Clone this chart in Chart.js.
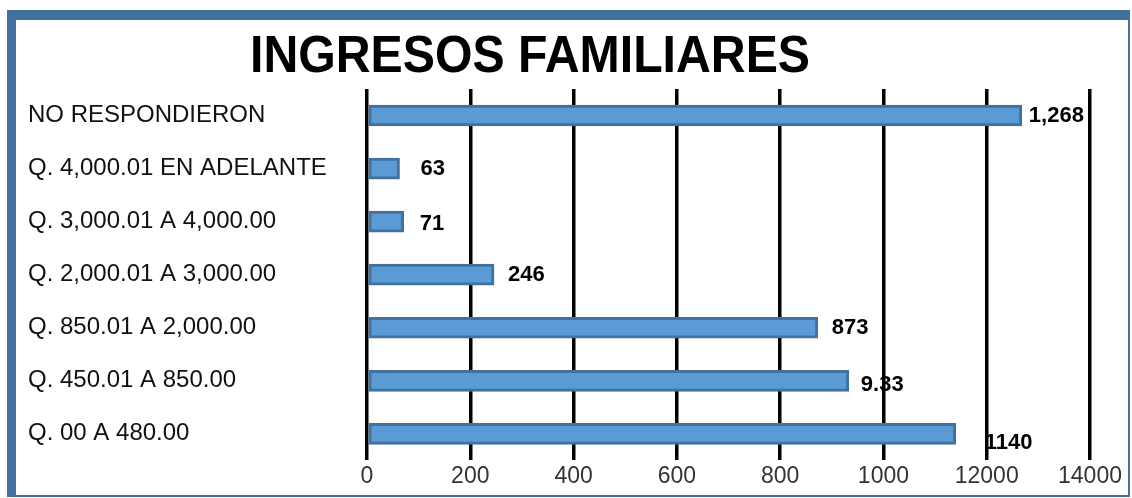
<!DOCTYPE html>
<html>
<head>
<meta charset="utf-8">
<title>Ingresos familiares</title>
<script src="https://cdn.jsdelivr.net/npm/chart.js@4.4.1/dist/chart.umd.min.js"></script>
<style>
  html, body { margin: 0; padding: 0; background: #fff; }
  #wrap { position: relative; width: 1132px; height: 498px; overflow: hidden; }
  #frame {
    position: absolute; left: 7px; top: 10px;
    width: 1112px; height: 475px;
    border-style: solid; border-color: #41719c;
    border-width: 10px 2px 2px 9px;
  }
  #chart { position: absolute; left: 0; top: 0; }
</style>
</head>
<body>
<div id="wrap">
  <div id="frame"></div>
  <canvas id="chart" width="1132" height="498"></canvas>
</div>
<script>
// ============================================================
// DATOS
// ============================================================
const categories = [
    'NO RESPONDIERON',
    'Q. 4,000.01 EN ADELANTE',
    'Q. 3,000.01 A 4,000.00',
    'Q. 2,000.01 A 3,000.00',
    'Q. 850.01 A 2,000.00',
    'Q. 450.01 A 850.00',
    'Q. 00 A 480.00'
];
const familias = [1268, 63, 71, 246, 873, 933, 1140];
// etiquetas tal como aparecen en la imagen
const valueLabels = ['1,268', '63', '71', '246', '873', '9.33', '1140'];
const xTickLabels = ['0', '200', '400', '600', '800', '1000', '12000', '14000'];

const FONT = '"Liberation Sans", Arial, Helvetica, sans-serif';

// pequeño desplazamiento de cada etiqueta respecto al final de la barra
const labelNudge = [[7, 0], [21, 0], [16, 2], [14, 0], [14, 0], [12, 4], [29, 9]];

const valueLabelPlugin = {
    id: 'valueLabels',
    afterDatasetsDraw(chart) {
        const ctx = chart.ctx;
        const meta = chart.getDatasetMeta(0);
        ctx.save();
        ctx.font = 'bold 22px ' + FONT;
        ctx.fillStyle = '#000';
        ctx.textAlign = 'left';
        ctx.textBaseline = 'middle';
        meta.data.forEach((bar, i) => {
            const [dx, dy] = labelNudge[i];
            ctx.fillText(valueLabels[i], bar.x + dx, bar.y + dy);
        });
        ctx.restore();
    }
};

// titulo dibujado a mano para poder centrarlo donde está en el original
const titlePlugin = {
    id: 'bigTitle',
    afterDraw(chart) {
        const ctx = chart.ctx;
        const text = 'INGRESOS FAMILIARES';
        ctx.save();
        ctx.font = 'bold 52px "Liberation Sans Narrow", ' + FONT;
        ctx.fillStyle = '#000';
        ctx.textBaseline = 'alphabetic';
        ctx.textAlign = 'center';
        const w = ctx.measureText(text).width;
        const target = 560;
        const sx = Math.min(1, target / w);
        ctx.translate(530, 72);
        ctx.scale(sx, 1);
        ctx.fillText(text, 0, 0);
        ctx.restore();
    }
};

new Chart(document.getElementById('chart'), {
    type: 'bar',
    data: {
        labels: categories,
        datasets: [{
            label: 'Familias',
            data: familias,
            backgroundColor: '#5b9bd5',
            borderColor: '#41719c',
            borderWidth: 3,
            borderSkipped: false,
            barThickness: 21
        }]
    },
    options: {
        indexAxis: 'y',
        responsive: false,
        animation: false,
        layout: { padding: { top: 89, left: 28, right: 42, bottom: 6 } },
        plugins: {
            legend: { display: false },
            tooltip: { enabled: false }
        },
        scales: {
            x: {
                min: 0,
                max: 1400,
                ticks: {
                    stepSize: 200,
                    autoSkip: false,
                    maxRotation: 0,
                    padding: 2,
                    color: '#333',
                    font: { family: FONT, size: 23 },
                    callback: (v, i) => xTickLabels[i]
                },
                grid: { color: '#000', lineWidth: 3.5, drawTicks: false },
                border: { display: false }
            },
            y: {
                afterFit(scale) { scale.width = 339; },
                ticks: {
                    crossAlign: 'far',
                    padding: 0,
                    color: '#111',
                    font: { family: FONT, size: 24 }
                },
                grid: { display: false, drawTicks: false },
                border: { display: false }
            }
        }
    },
    plugins: [valueLabelPlugin, titlePlugin]
});
</script>
</body>
</html>
